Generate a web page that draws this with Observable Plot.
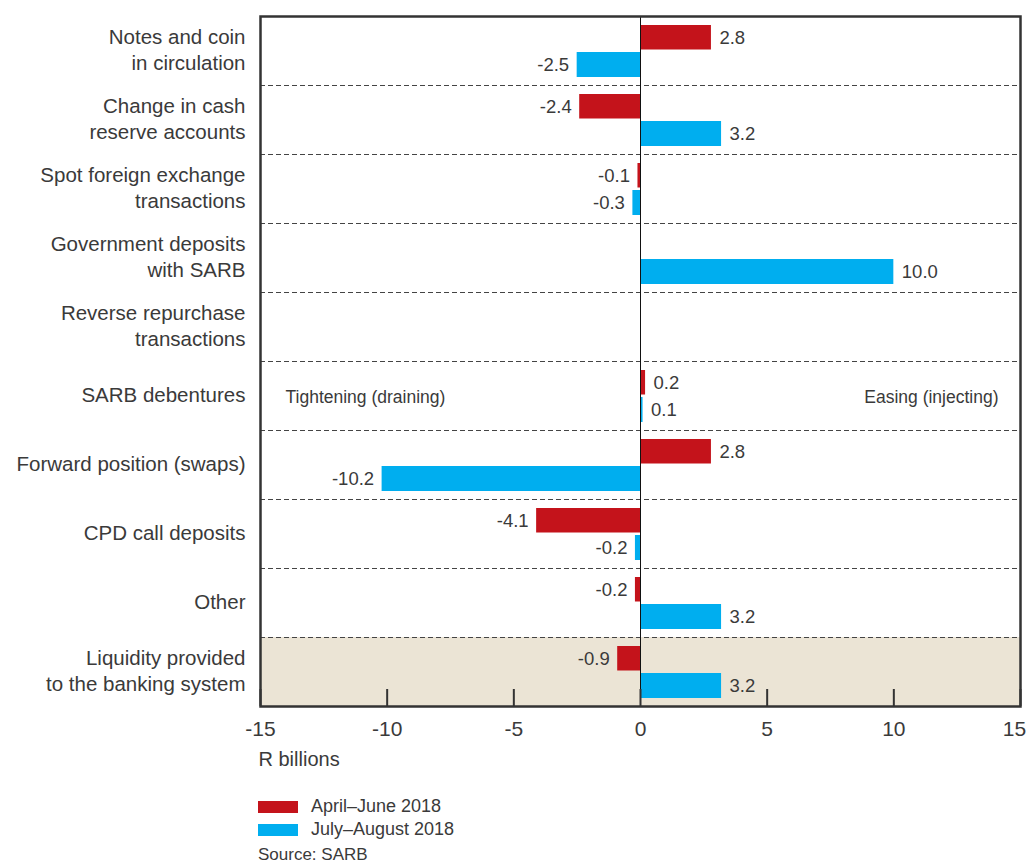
<!DOCTYPE html>
<html>
<head>
<meta charset="utf-8">
<script src="https://cdn.jsdelivr.net/npm/d3@7"></script>
<script src="https://cdn.jsdelivr.net/npm/@observablehq/plot@0.6"></script>
<style>
  body { margin: 0; background: #fff; font-family: "Liberation Sans", Arial, sans-serif; color: #3a3a3a; overflow: hidden; }
  #legend { position: relative; margin-left: 258px; font-size: 18px; }
  .row { display: flex; align-items: center; height: 23px; }
  .sw { width: 40px; height: 12px; margin-right: 13px; }
  #source { margin-left: 258px; margin-top: 4px; font-size: 17px; line-height: 20px; }
</style>
</head>
<body>
<div id="chart"></div>
<div id="legend"></div>
<div id="source">Source: SARB</div>
<script>
const categories = [
  "Notes and coin in circulation",
  "Change in cash reserve accounts",
  "Spot foreign exchange transactions",
  "Government deposits with SARB",
  "Reverse repurchase transactions",
  "SARB debentures",
  "Forward position (swaps)",
  "CPD call deposits",
  "Other",
  "Liquidity provided to the banking system"
];
const categoryLabels = [
  "Notes and coin\nin circulation",
  "Change in cash\nreserve accounts",
  "Spot foreign exchange\ntransactions",
  "Government deposits\nwith SARB",
  "Reverse repurchase\ntransactions",
  "SARB debentures",
  "Forward position (swaps)",
  "CPD call deposits",
  "Other",
  "Liquidity provided\nto the banking system"
];
const seriesNames = ["April–June 2018", "July–August 2018"];
const aprilJune = [2.8, -2.4, -0.1, null, null, 0.2, 2.8, -4.1, -0.2, -0.9];
const julyAugust = [-2.5, 3.2, -0.3, 10.0, null, 0.1, -10.2, -0.2, 3.2, 3.2];
const xTicks = [-15, -10, -5, 0, 5, 10, 15];
const colors = ["#c4131b", "#00aeef"];

const data = categories.flatMap((c, i) => [
  {cat: c, series: seriesNames[0], value: aprilJune[i]},
  {cat: c, series: seriesNames[1], value: julyAugust[i]}
]).filter(d => d.value != null);

const s0 = data.filter(d => d.series === seriesNames[0]);
const s1 = data.filter(d => d.series === seriesNames[1]);
const last = categories[categories.length - 1];
const font = "Liberation Sans, Arial, sans-serif";
const txt = "#3a3a3a";

const valueLabels = (arr, dy) => [
  Plot.text(arr.filter(d => d.value >= 0), {x: "value", y: "cat", dy, dx: 8, text: d => d.value.toFixed(1), textAnchor: "start", fontSize: 18.5, fill: txt}),
  Plot.text(arr.filter(d => d.value < 0), {x: "value", y: "cat", dy, dx: -8, text: d => d.value.toFixed(1), textAnchor: "end", fontSize: 18.5, fill: txt})
];

const chart = Plot.plot({
  width: 1028,
  height: 775,
  marginLeft: 260,
  marginRight: 8,
  marginTop: 16,
  marginBottom: 69,
  style: {fontFamily: font, background: "#fff", overflow: "visible"},
  x: {domain: [-15, 15], axis: null},
  y: {domain: categories, padding: 0, axis: null},
  marks: [
    Plot.barX([last], {y: d => d, x1: -15, x2: 15, fill: "#ebe4d5"}),
    Plot.ruleY(categories.slice(1), {y: d => d, dy: -34.5, stroke: "#444", strokeDasharray: "5,3", strokeWidth: 1}),
    Plot.barX(s0, {y: "cat", x1: 0, x2: "value", fill: colors[0], insetTop: 9, insetBottom: 35.5}),
    Plot.barX(s1, {y: "cat", x1: 0, x2: "value", fill: colors[1], insetTop: 36, insetBottom: 8}),
    Plot.ruleX([0], {stroke: "#111", strokeWidth: 1}),
    ...valueLabels(s0, -13),
    ...valueLabels(s1, 14),
    Plot.tickX(xTicks, {x: d => d, y: () => last, insetTop: 52, stroke: "#333", strokeWidth: 2}),
    Plot.text(categories, {y: d => d, frameAnchor: "left", dx: -15, dy: -2, textAnchor: "end", text: (d, i) => categoryLabels[i], fontSize: 20.5, lineHeight: 1.27, fill: txt}),
    Plot.text(xTicks.slice(0, -1), {x: d => d, frameAnchor: "bottom", dy: 29, text: d => String(d), fontSize: 21, fill: txt}),
    Plot.text(xTicks.slice(-1), {x: d => d, frameAnchor: "bottom", dy: 29, dx: -6, text: d => String(d), fontSize: 21, fill: txt}),
    Plot.text(["R billions"], {frameAnchor: "bottom-left", dy: 59, dx: -2, textAnchor: "start", text: d => d, fontSize: 20, fill: txt}),
    Plot.text(["Tightening (draining)"], {x: -15, y: () => "SARB debentures", dx: 25, dy: 1, textAnchor: "start", text: d => d, fontSize: 17.5, fill: txt}),
    Plot.text(["Easing (injecting)"], {x: 15, y: () => "SARB debentures", dx: -22, dy: 1, textAnchor: "end", text: d => d, fontSize: 17.5, fill: txt}),
    Plot.frame({stroke: "#333", strokeWidth: 2.5})
  ]
});
document.getElementById("chart").appendChild(chart);

const legend = document.getElementById("legend");
legend.style.marginTop = "20px";
seriesNames.forEach((name, i) => {
  const row = document.createElement("div");
  row.className = "row";
  const sw = document.createElement("div");
  sw.className = "sw";
  sw.style.background = colors[i];
  const label = document.createElement("span");
  label.textContent = name;
  row.appendChild(sw);
  row.appendChild(label);
  legend.appendChild(row);
});
</script>
</body>
</html>
